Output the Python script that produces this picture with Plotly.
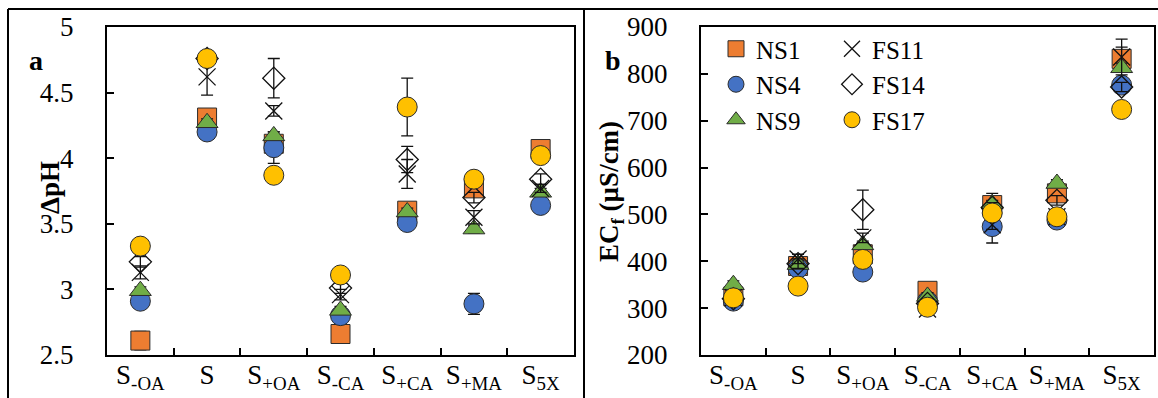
import plotly.graph_objects as go

# ---------------- data ----------------
categories = ["S<sub>-OA</sub>", "S", "S<sub>+OA</sub>", "S<sub>-CA</sub>",
              "S<sub>+CA</sub>", "S<sub>+MA</sub>", "S<sub>5X</sub>"]
series_names = ["NS1", "NS4", "NS9", "FS11", "FS14", "FS17"]

# Panel a: delta pH
dph_NS1 = [2.61, 4.31, 4.11, 2.66, 3.60, 3.77, 4.07]
dph_NS4 = [2.91, 4.20, 4.08, 2.80, 3.51, 2.89, 3.64]
dph_NS9 = [2.99, 4.27, 4.17, 2.84, 3.59, 3.46, 3.74]
dph_FS11 = [3.13, 4.62, 4.36, 2.96, 3.88, 3.55, 3.77]
dph_FS14 = [3.21, 4.76, 4.61, 3.01, 3.99, 3.70, 3.84]
dph_FS17 = [3.33, 4.76, 3.87, 3.11, 4.39, 3.84, 4.02]

dph_err_NS1 = [0.07, 0.03, 0.03, 0.02, 0.03, 0.03, 0.03]
dph_err_NS4 = [0.03, 0.03, 0.12, 0.03, 0.03, 0.08, 0.03]
dph_err_NS9 = [0.03, 0.03, 0.03, 0.03, 0.03, 0.03, 0.03]
dph_err_FS11 = [0.05, 0.14, 0.04, 0.04, 0.11, 0.05, 0.03]
dph_err_FS14 = [0.04, 0.04, 0.15, 0.04, 0.10, 0.04, 0.04]
dph_err_FS17 = [0.03, 0.03, 0.03, 0.03, 0.22, 0.03, 0.03]

# Panel b: EC_f (uS/cm)
ec_NS1 = [325, 390, 415, 337, 520, 545, 832]
ec_NS4 = [315, 385, 377, 315, 474, 488, 776]
ec_NS9 = [350, 393, 435, 325, 522, 566, 813]
ec_FS11 = [322, 405, 450, 298, 478, 495, 836]
ec_FS14 = [320, 395, 510, 310, 515, 530, 772]
ec_FS17 = [322, 347, 404, 302, 503, 495, 724]

ec_err_NS1 = [8, 8, 10, 10, 25, 10, 25]
ec_err_NS4 = [8, 8, 8, 8, 35, 8, 10]
ec_err_NS9 = [8, 8, 8, 8, 8, 8, 10]
ec_err_FS11 = [10, 10, 10, 10, 10, 10, 38]
ec_err_FS14 = [10, 10, 42, 10, 10, 10, 10]
ec_err_FS17 = [8, 8, 8, 8, 8, 8, 8]

x_pos = list(range(1, len(categories) + 1))
boundaries = [i + 0.5 for i in range(1, len(categories))]

# ---------------- styles ----------------
W, H = 1158, 398
FONT = "Liberation Serif"
EDGE = "#2b2b2b"
styles = {
    "NS1": dict(symbol="square", size=19, color="#ED7D31", line=dict(color=EDGE, width=1)),
    "NS4": dict(symbol="circle", size=20, color="#4472C4", line=dict(color=EDGE, width=1)),
    "NS9": dict(symbol="triangle-up", size=19, color="#70AD47", line=dict(color=EDGE, width=1)),
    "FS11": dict(symbol="x-thin-open", size=17, color="#111111", line=dict(color="#111111", width=1.3)),
    "FS14": dict(symbol="diamond-open", size=17, color="#111111", line=dict(color="#111111", width=1.3)),
    "FS17": dict(symbol="circle", size=20, color="#FFC000", line=dict(color=EDGE, width=1)),
}

dph = dict(NS1=dph_NS1, NS4=dph_NS4, NS9=dph_NS9, FS11=dph_FS11, FS14=dph_FS14, FS17=dph_FS17)
dph_err = dict(NS1=dph_err_NS1, NS4=dph_err_NS4, NS9=dph_err_NS9, FS11=dph_err_FS11,
               FS14=dph_err_FS14, FS17=dph_err_FS17)
ec = dict(NS1=ec_NS1, NS4=ec_NS4, NS9=ec_NS9, FS11=ec_FS11, FS14=ec_FS14, FS17=ec_FS17)
ec_err = dict(NS1=ec_err_NS1, NS4=ec_err_NS4, NS9=ec_err_NS9, FS11=ec_err_FS11,
              FS14=ec_err_FS14, FS17=ec_err_FS17)

fig = go.Figure()

def err(arr):
    return dict(type="data", array=arr, visible=True, color="#111111", thickness=1.3, width=6)

for name in series_names:
    fig.add_trace(go.Scatter(
        x=x_pos, y=dph[name], mode="markers", name=name, showlegend=False,
        marker=styles[name], error_y=err(dph_err[name]), xaxis="x", yaxis="y"))

for name in series_names:
    fig.add_trace(go.Scatter(
        x=x_pos, y=ec[name], mode="markers", name=name, showlegend=True,
        legend="legend" if name.startswith("NS") else "legend2",
        marker=styles[name], error_y=err(ec_err[name]), xaxis="x2", yaxis="y2"))

def px(x):
    return x / W

def py(y):
    return 1 - y / H

TICKSIZE = 27
axis_common = dict(showline=True, linecolor="black", linewidth=2, mirror=True,
                   showgrid=False, zeroline=False, automargin=False,
                   tickfont=dict(family=FONT, size=TICKSIZE, color="black"))

xcommon = dict(axis_common, range=[0.5, 7.5], tickmode="array", tickvals=x_pos,
               ticktext=categories, ticks="", ticklabelstandoff=-5,
               minor=dict(tickmode="array", tickvals=boundaries, ticks="inside",
                          ticklen=7, tickwidth=2, tickcolor="black", showgrid=False))

legend_common = dict(xanchor="left", yanchor="top", bgcolor="rgba(0,0,0,0)",
                     font=dict(family=FONT, size=25, color="black"),
                     tracegroupgap=0, itemclick=False, itemdoubleclick=False)

fig.update_layout(
    width=W, height=H, autosize=False,
    margin=dict(l=0, r=0, t=0, b=0, pad=0, autoexpand=False),
    paper_bgcolor="white", plot_bgcolor="white",
    font=dict(family=FONT, size=24, color="black"),
    xaxis=dict(xcommon, domain=[px(107), px(574)], anchor="y"),
    yaxis=dict(axis_common, domain=[py(355), py(27)], anchor="x", range=[2.5, 5],
               dtick=0.5, tick0=2.5, ticks="inside", ticklen=7, tickwidth=2,
               tickcolor="black", ticklabelstandoff=26),
    xaxis2=dict(xcommon, domain=[px(701), px(1154)], anchor="y2"),
    yaxis2=dict(axis_common, domain=[py(355), py(27)], anchor="x2", range=[200, 900],
                dtick=100, tick0=200, ticks="inside", ticklen=7, tickwidth=2,
                tickcolor="black", ticklabelstandoff=26),
    legend=dict(legend_common, x=px(716), y=py(26)),
    legend2=dict(legend_common, x=px(832), y=py(26)),
    showlegend=True,
)

# Outer frame lines
frame = dict(type="line", xref="paper", yref="paper", line=dict(color="black", width=2))
fig.add_shape(frame, x0=px(8), x1=1, y0=py(9), y1=py(9))
fig.add_shape(frame, x0=px(8), x1=px(8), y0=py(9), y1=0)
fig.add_shape(frame, x0=px(584), x1=px(584), y0=py(9), y1=0)

# Panel letters and axis titles
fig.add_annotation(x=px(27), y=py(43), xref="paper", yref="paper", text="<b>a</b>",
                   showarrow=False, font=dict(family=FONT, size=28, color="black"))
fig.add_annotation(x=px(613), y=py(43), xref="paper", yref="paper", text="<b>b</b>",
                   showarrow=False, font=dict(family=FONT, size=28, color="black"))
fig.add_annotation(x=px(33), y=py(188), xref="paper", yref="paper", text="<b>ΔpH</b>",
                   textangle=-90, showarrow=False, font=dict(family=FONT, size=27, color="black"))
fig.add_annotation(x=px(611), y=py(191), xref="paper", yref="paper",
                   text="<b>EC<sub>f</sub> (µS/cm)</b>",
                   textangle=-90, showarrow=False, font=dict(family=FONT, size=27, color="black"))

fig.write_html("out.html")
